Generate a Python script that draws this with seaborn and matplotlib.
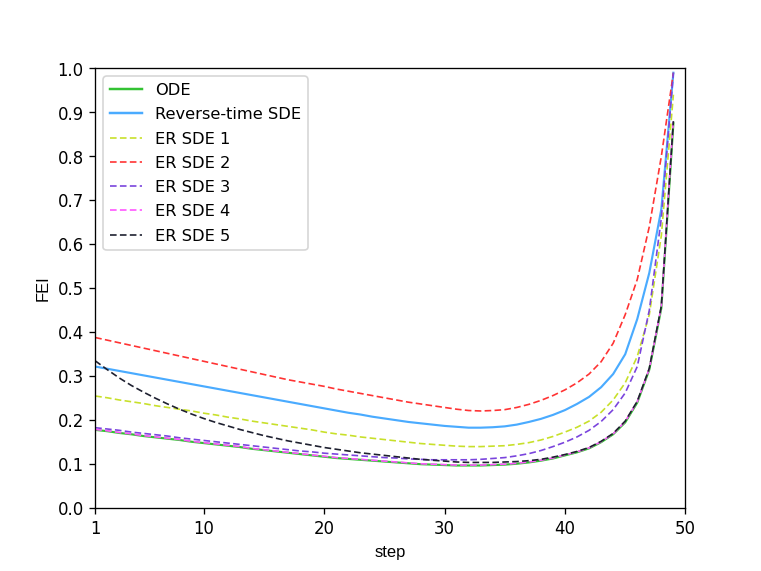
import numpy as np
import pandas as pd
import matplotlib
matplotlib.use("Agg")
import matplotlib.pyplot as plt
import seaborn as sns

steps = list(range(1, 50))

ode = [0.178, 0.175, 0.171, 0.168, 0.164, 0.161, 0.158, 0.155, 0.151, 0.148,
       0.145, 0.142, 0.139, 0.135, 0.132, 0.129, 0.126, 0.123, 0.120, 0.117,
       0.114, 0.112, 0.110, 0.108, 0.106, 0.104, 0.102, 0.100, 0.099, 0.098,
       0.097, 0.097, 0.097, 0.098, 0.099, 0.101, 0.104, 0.108, 0.113, 0.120,
       0.127, 0.136, 0.150, 0.168, 0.195, 0.240, 0.315, 0.455, 0.875]

reverse_sde = [0.322, 0.317, 0.312, 0.307, 0.302, 0.297, 0.292, 0.287, 0.282, 0.277,
               0.272, 0.267, 0.262, 0.257, 0.252, 0.247, 0.242, 0.237, 0.232, 0.227,
               0.222, 0.217, 0.213, 0.208, 0.204, 0.200, 0.196, 0.193, 0.190, 0.187,
               0.185, 0.183, 0.183, 0.184, 0.186, 0.190, 0.196, 0.203, 0.212, 0.223,
               0.237, 0.253, 0.275, 0.305, 0.350, 0.430, 0.535, 0.680, 0.990]

er_sde1 = [0.255, 0.251, 0.246, 0.242, 0.238, 0.233, 0.229, 0.225, 0.221, 0.216,
           0.212, 0.207, 0.203, 0.198, 0.194, 0.190, 0.186, 0.182, 0.178, 0.173,
           0.169, 0.166, 0.162, 0.159, 0.156, 0.153, 0.150, 0.147, 0.145, 0.143,
           0.141, 0.140, 0.140, 0.141, 0.142, 0.145, 0.149, 0.155, 0.163, 0.173,
           0.184, 0.198, 0.218, 0.246, 0.285, 0.345, 0.440, 0.620, 0.940]

er_sde2 = [0.388, 0.382, 0.376, 0.370, 0.364, 0.358, 0.352, 0.346, 0.340, 0.334,
           0.328, 0.322, 0.316, 0.310, 0.304, 0.298, 0.292, 0.287, 0.282, 0.277,
           0.271, 0.266, 0.261, 0.256, 0.251, 0.246, 0.241, 0.237, 0.233, 0.229,
           0.225, 0.222, 0.221, 0.222, 0.224, 0.229, 0.236, 0.245, 0.256, 0.269,
           0.285, 0.305, 0.333, 0.375, 0.440, 0.520, 0.640, 0.800, 0.990]

er_sde3 = [0.183, 0.180, 0.177, 0.173, 0.170, 0.167, 0.164, 0.160, 0.157, 0.154,
           0.151, 0.148, 0.145, 0.142, 0.139, 0.136, 0.133, 0.130, 0.128, 0.125,
           0.123, 0.121, 0.119, 0.117, 0.115, 0.114, 0.112, 0.111, 0.110, 0.110,
           0.110, 0.110, 0.111, 0.113, 0.115, 0.119, 0.124, 0.131, 0.140, 0.150,
           0.162, 0.177, 0.197, 0.224, 0.262, 0.322, 0.450, 0.660, 0.990]

er_sde4 = [0.179, 0.176, 0.172, 0.169, 0.165, 0.162, 0.159, 0.156, 0.152, 0.149,
           0.146, 0.143, 0.140, 0.136, 0.133, 0.130, 0.127, 0.124, 0.121, 0.118,
           0.115, 0.113, 0.111, 0.109, 0.107, 0.105, 0.103, 0.101, 0.100, 0.099,
           0.098, 0.098, 0.098, 0.099, 0.100, 0.102, 0.105, 0.109, 0.114, 0.121,
           0.128, 0.137, 0.151, 0.169, 0.197, 0.242, 0.317, 0.458, 0.885]

er_sde5 = [0.335, 0.315, 0.296, 0.279, 0.264, 0.250, 0.237, 0.225, 0.214, 0.204,
           0.195, 0.187, 0.179, 0.172, 0.165, 0.159, 0.153, 0.148, 0.143, 0.138,
           0.134, 0.130, 0.126, 0.123, 0.120, 0.117, 0.114, 0.111, 0.109, 0.107,
           0.105, 0.104, 0.104, 0.104, 0.105, 0.106, 0.108, 0.111, 0.116, 0.122,
           0.129, 0.138, 0.152, 0.170, 0.198, 0.243, 0.318, 0.460, 0.880]

names = ["ODE", "Reverse-time SDE", "ER SDE 1", "ER SDE 2", "ER SDE 3", "ER SDE 4", "ER SDE 5"]
series = [ode, reverse_sde, er_sde1, er_sde2, er_sde3, er_sde4, er_sde5]
colors = ["#33c233", "#4aabff", "#c8e02a", "#ff3333", "#7a44dd", "#ff55ff", "#1e2030"]

df = pd.DataFrame({"step": steps * len(names),
                   "FEI": sum(series, []),
                   "method": np.repeat(names, len(steps))})

fig, ax = plt.subplots(figsize=(6.4, 4.8), dpi=119)
dash_map = {n: "" for n in names[:2]}
dash_map.update({n: (4, 2) for n in names[2:]})
sns.lineplot(data=df, x="step", y="FEI", hue="method", style="method",
             palette=dict(zip(names, colors)), dashes=dash_map, ax=ax, linewidth=1.0)
for line in ax.lines[:2]:
    line.set_linewidth(1.3)

ax.set_xlim(1, 50)
ax.set_ylim(0, 1.0)
ax.set_xticks([1, 10, 20, 30, 40, 50])
ax.set_yticks(np.arange(0, 1.01, 0.1))
ax.set_xlabel("step", family="Liberation Sans")
ax.set_ylabel("FEI", family="Liberation Sans")
leg = ax.legend(loc="upper left", fontsize=9.8, labelspacing=0.57)
for h in leg.get_lines()[:2]:
    h.set_linewidth(1.5)
fig.savefig("out.png")
